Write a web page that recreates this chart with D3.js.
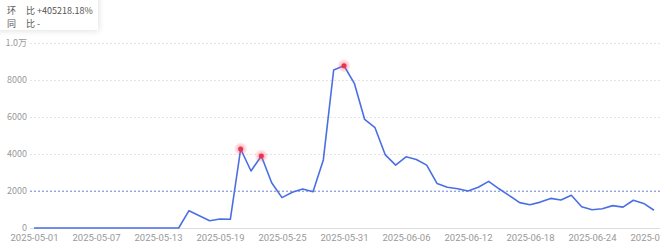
<!DOCTYPE html>
<html>
<head>
<meta charset="utf-8">
<script src="https://cdn.jsdelivr.net/npm/d3@7"></script>
<style>
  body { margin: 0; background: #fff; font-family: "Noto Sans CJK SC", "Noto Sans", sans-serif; }
  #wrap { position: relative; width: 660px; height: 243px; overflow: hidden; }
  #tip { position: absolute; left: -10px; top: -10px; width: 108px; height: 40px; background: #fff;
         box-shadow: 1px 1px 6px rgba(0,0,0,0.12); font-size: 9px; color: #555; }
  #tip p { margin: 0; position: absolute; left: 17px; white-space: pre; }
</style>
</head>
<body>
<div id="wrap">
  <svg id="chart"></svg>
  <div id="tip">
    <p style="top:14px">环&nbsp;&nbsp;&nbsp;&nbsp;&nbsp;比 +405218.18%</p>
    <p style="top:27px">同&nbsp;&nbsp;&nbsp;&nbsp;&nbsp;比 -</p>
  </div>
</div>
<script>
const width = 660;
const height = 243;

// daily values, 2025-05-01 .. 2025-06-30
const startDate = "2025-05-01";
const values = [
  0, 0, 0, 0, 0, 0, 0, 0, 0, 0, 0, 0, 0, 0, 0,
  935, 660, 395, 486, 470, 4270, 3080, 3890, 2450, 1640,
  1930, 2110, 1960, 3680, 8540, 8770, 7820, 5870, 5420, 3950,
  3400, 3850, 3700, 3400, 2410, 2200, 2120, 2000, 2200, 2520,
  2120, 1750, 1370, 1260, 1400, 1600, 1510, 1770, 1150, 990,
  1040, 1210, 1130, 1500, 1330, 960
];
const markedDays = ["2025-05-21", "2025-05-23", "2025-05-31"];
const averageValue = 1990;
const yTicks = [0, 2000, 4000, 6000, 8000, 10000];
const xTickDates = ["2025-05-01", "2025-05-07", "2025-05-13", "2025-05-19", "2025-05-25",
  "2025-05-31", "2025-06-06", "2025-06-12", "2025-06-18", "2025-06-24", "2025-06-30"];

const parse = d3.utcParse("%Y-%m-%d");
const fmt = d3.utcFormat("%Y-%m-%d");
const start = parse(startDate);
const data = values.map((v, i) => ({ date: d3.utcDay.offset(start, i), value: v }));

const svg = d3.select("#chart").attr("width", width).attr("height", height);

const xScale = d3.scaleUtc()
  .domain([start, parse("2025-06-30")])
  .range([34, 654]);
const yScale = d3.scaleLinear()
  .domain([0, 10000])
  .range([228, 43]);

// grid
const yAxis = d3.axisLeft(yScale)
  .tickValues(yTicks)
  .tickSize(-(width - 30))
  .tickFormat((d) => (d >= 10000 ? (d / 10000).toFixed(1) + "万" : d));
const gy = svg.append("g").attr("transform", "translate(30,0)").call(yAxis);
gy.select(".domain").remove();
gy.selectAll(".tick line")
  .attr("stroke", "#e3e3e3")
  .attr("stroke-dasharray", "2,2");
gy.selectAll(".tick text")
  .attr("x", -3)
  .attr("fill", "#999")
  .attr("font-size", 9)
  .attr("font-family", "Noto Sans CJK SC, sans-serif");
gy.selectAll(".tick").filter((d) => d === 0).select("line")
  .attr("stroke", "#ddd").attr("stroke-dasharray", null);

const xAxis = d3.axisBottom(xScale)
  .tickValues(xTickDates.map(parse))
  .tickSize(0)
  .tickFormat(fmt);
const gx = svg.append("g").attr("transform", "translate(0,228)").call(xAxis);
gx.select(".domain").remove();
gx.selectAll(".tick text")
  .attr("y", 6)
  .attr("fill", "#999")
  .attr("font-size", 9.5)
  .attr("font-family", "Roboto, sans-serif");

// average line
svg.append("line")
  .attr("x1", 30)
  .attr("x2", width)
  .attr("y1", yScale(averageValue))
  .attr("y2", yScale(averageValue))
  .attr("stroke", "#6e87e6")
  .attr("stroke-width", 1)
  .attr("stroke-dasharray", "2,2");

// line
const line = d3.line()
  .x((d) => xScale(d.date))
  .y((d) => yScale(d.value));
svg.append("path")
  .datum(data)
  .attr("fill", "none")
  .attr("stroke", "#4a6fe3")
  .attr("stroke-width", 1.6)
  .attr("stroke-linejoin", "round")
  .attr("d", line);

// highlighted points
const marks = data.filter((d) => markedDays.includes(fmt(d.date)));
const glow = svg.append("defs").append("radialGradient").attr("id", "glow");
glow.append("stop").attr("offset", "0%").attr("stop-color", "#ff4d6a").attr("stop-opacity", 0.6);
glow.append("stop").attr("offset", "100%").attr("stop-color", "#ff4d6a").attr("stop-opacity", 0);
svg.append("g")
  .selectAll("circle")
  .data(marks)
  .enter()
  .append("circle")
  .attr("cx", (d) => xScale(d.date))
  .attr("cy", (d) => yScale(d.value))
  .attr("r", 7)
  .attr("fill", "url(#glow)");
svg.append("g")
  .selectAll("circle")
  .data(marks)
  .enter()
  .append("circle")
  .attr("cx", (d) => xScale(d.date))
  .attr("cy", (d) => yScale(d.value))
  .attr("r", 2.5)
  .attr("fill", "#e8344e");
</script>
</body>
</html>
